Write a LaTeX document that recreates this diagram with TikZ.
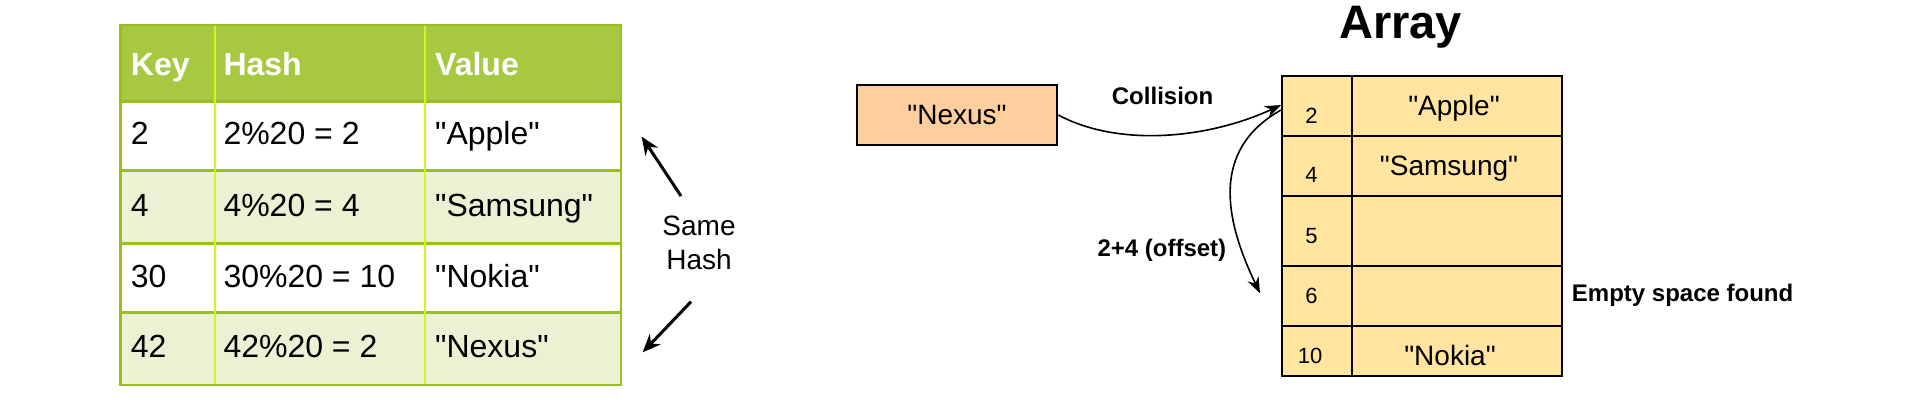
\documentclass[tikz,border=0pt]{standalone}
\usepackage{fontspec}
\setmainfont{Liberation Sans}[Ligatures=TeXOff]
\usetikzlibrary{arrows.meta}
\definecolor{hdr}{HTML}{A7C942}
\definecolor{altrow}{HTML}{EAF2D3}
\definecolor{hline}{HTML}{98BF21}
\definecolor{vline}{HTML}{D0F520}
\definecolor{nexfill}{HTML}{FFCE9F}
\definecolor{arrfill}{HTML}{FFE59F}
\begin{document}
\begin{tikzpicture}[x=1pt,y=-1pt,
  cell/.style={anchor=base west, inner sep=0pt, font=\fontsize{32}{38}\selectfont},
  hcell/.style={anchor=base west, inner sep=0pt, text=white, font=\fontsize{32}{38}\selectfont\bfseries},
  acell/.style={draw=black, line width=2pt, fill=arrfill, inner sep=0pt, anchor=north west},
  idxtxt/.style={anchor=base, inner sep=0pt, font=\fontsize{22}{26}\selectfont},
  valtxt/.style={anchor=base, inner sep=0pt, font=\fontsize{28}{33}\selectfont},
  blabel/.style={anchor=base west, inner sep=0pt, font=\fontsize{24}{29}\selectfont\bfseries},
  thinarrow/.style={line width=1.6pt, -{Stealth[length=16pt,width=12pt]}},
  thickarrow/.style={line width=3pt, -{Stealth[length=18pt,width=15pt]}}]
\useasboundingbox (0,0) rectangle (1916,412);

% ---------- table ----------
\fill[hdr] (120.7,25) rectangle (621,101.7);
\fill[altrow] (120.7,170.7) rectangle (621,243.3);
\fill[altrow] (120.7,312.7) rectangle (621,385);
\foreach \yy in {101.7,170.7,243.3,312.7}
  \draw[hline, line width=2.5pt] (120.7,\yy) -- (621,\yy);
\foreach \xx in {215,425}
  \draw[vline, line width=2pt] (\xx,25) -- (\xx,385);
\draw[hline, line width=2.5pt] (120.7,25) rectangle (621,385);

\node[hcell] (hk) at (130.7,75) {Key};
\node[hcell] (hh) at (223.3,75) {Hash};
\node[hcell] (hv) at (435,75) {Value};

\node[cell] (k1) at (130.7,144.3) {2};
\node[cell] (h1) at (223.3,144.3) {2\%20 = 2};
\node[cell] (v1) at (435,144.3) {"Apple"};
\node[cell] (k2) at (130.7,216) {4};
\node[cell] (h2) at (223.3,216) {4\%20 = 4};
\node[cell] (v2) at (435,216) {"Samsung"};
\node[cell] (k3) at (130.7,287.7) {30};
\node[cell] (h3) at (223.3,287.7) {30\%20 = 10};
\node[cell] (v3) at (435,287.7) {"Nokia"};
\node[cell] (k4) at (130.7,357.3) {42};
\node[cell] (h4) at (223.3,357.3) {42\%20 = 2};
\node[cell] (v4) at (435,357.3) {"Nexus"};

% ---------- same hash ----------
\node[align=center, inner sep=0pt, font=\fontsize{28}{33.3}\selectfont] (same) at (699,243) {Same\\Hash};
\coordinate (upT) at (681,196);
\coordinate (upH) at (641.7,136.7);
\coordinate (loT) at (691,301.7);
\coordinate (loH) at (642.7,352.3);
\draw[thickarrow] (upT) -- (upH);
\draw[thickarrow] (loT) -- (loH);

% ---------- nexus ----------
\node[draw=black, line width=2pt, fill=nexfill, minimum width=200.6pt, minimum height=60pt, inner sep=0pt,
      font=\fontsize{28}{33}\selectfont] (nexus) at (957,115) {"Nexus"};

% ---------- array ----------
\node[anchor=base, inner sep=0pt, font=\fontsize{47}{56}\selectfont\bfseries] (title) at (1400.5,38.3) {Array};

\node[acell, minimum width=70.3pt, minimum height=60pt] (i1) at (1280.7,75) {};
\node[acell, minimum width=210pt, minimum height=60pt] (c1) at (1351,75) {};
\node[acell, minimum width=70.3pt, minimum height=60pt] (i2) at (1280.7,135) {};
\node[acell, minimum width=210pt, minimum height=60pt] (c2) at (1351,135) {};
\node[acell, minimum width=70.3pt, minimum height=70pt] (i3) at (1280.7,195) {};
\node[acell, minimum width=210pt, minimum height=70pt] (c3) at (1351,195) {};
\node[acell, minimum width=70.3pt, minimum height=60pt] (i4) at (1280.7,265) {};
\node[acell, minimum width=210pt, minimum height=60pt] (c4) at (1351,265) {};
\node[acell, minimum width=70.3pt, minimum height=50pt] (i5) at (1280.7,325) {};
\node[acell, minimum width=210pt, minimum height=50pt] (c5) at (1351,325) {};

\node[idxtxt] (n2) at (1311.5,123.3) {2};
\node[idxtxt] (n4) at (1311.5,182.7) {4};
\node[idxtxt] (n5) at (1311.5,243.3) {5};
\node[idxtxt] (n6) at (1311.5,303.3) {6};
\node[idxtxt] (n10) at (1310,363.3) {10};

\node[valtxt] (va) at (1454,115) {"Apple"};
\node[valtxt] (vs) at (1449,175) {"Samsung"};
\node[valtxt] (vn) at (1450,365) {"Nokia"};

\node[blabel] (empty) at (1571.7,301.7) {Empty space found};
\node[blabel] (coll) at (1111.7,104.3) {Collision};
\node[blabel] (offs) at (1097.3,256) {2+4 (offset)};

% ---------- connectors ----------
\coordinate (hit) at (1281,105);
\coordinate (offStart) at (1281,110);
\coordinate (offEnd) at (1260,293.3);
\draw[thinarrow] (nexus.east) .. controls (1120,148) and (1210,138) .. (hit);
\draw[thinarrow] (offStart) .. controls (1210,150) and (1225,220) .. (offEnd);
\end{tikzpicture}
\end{document}
